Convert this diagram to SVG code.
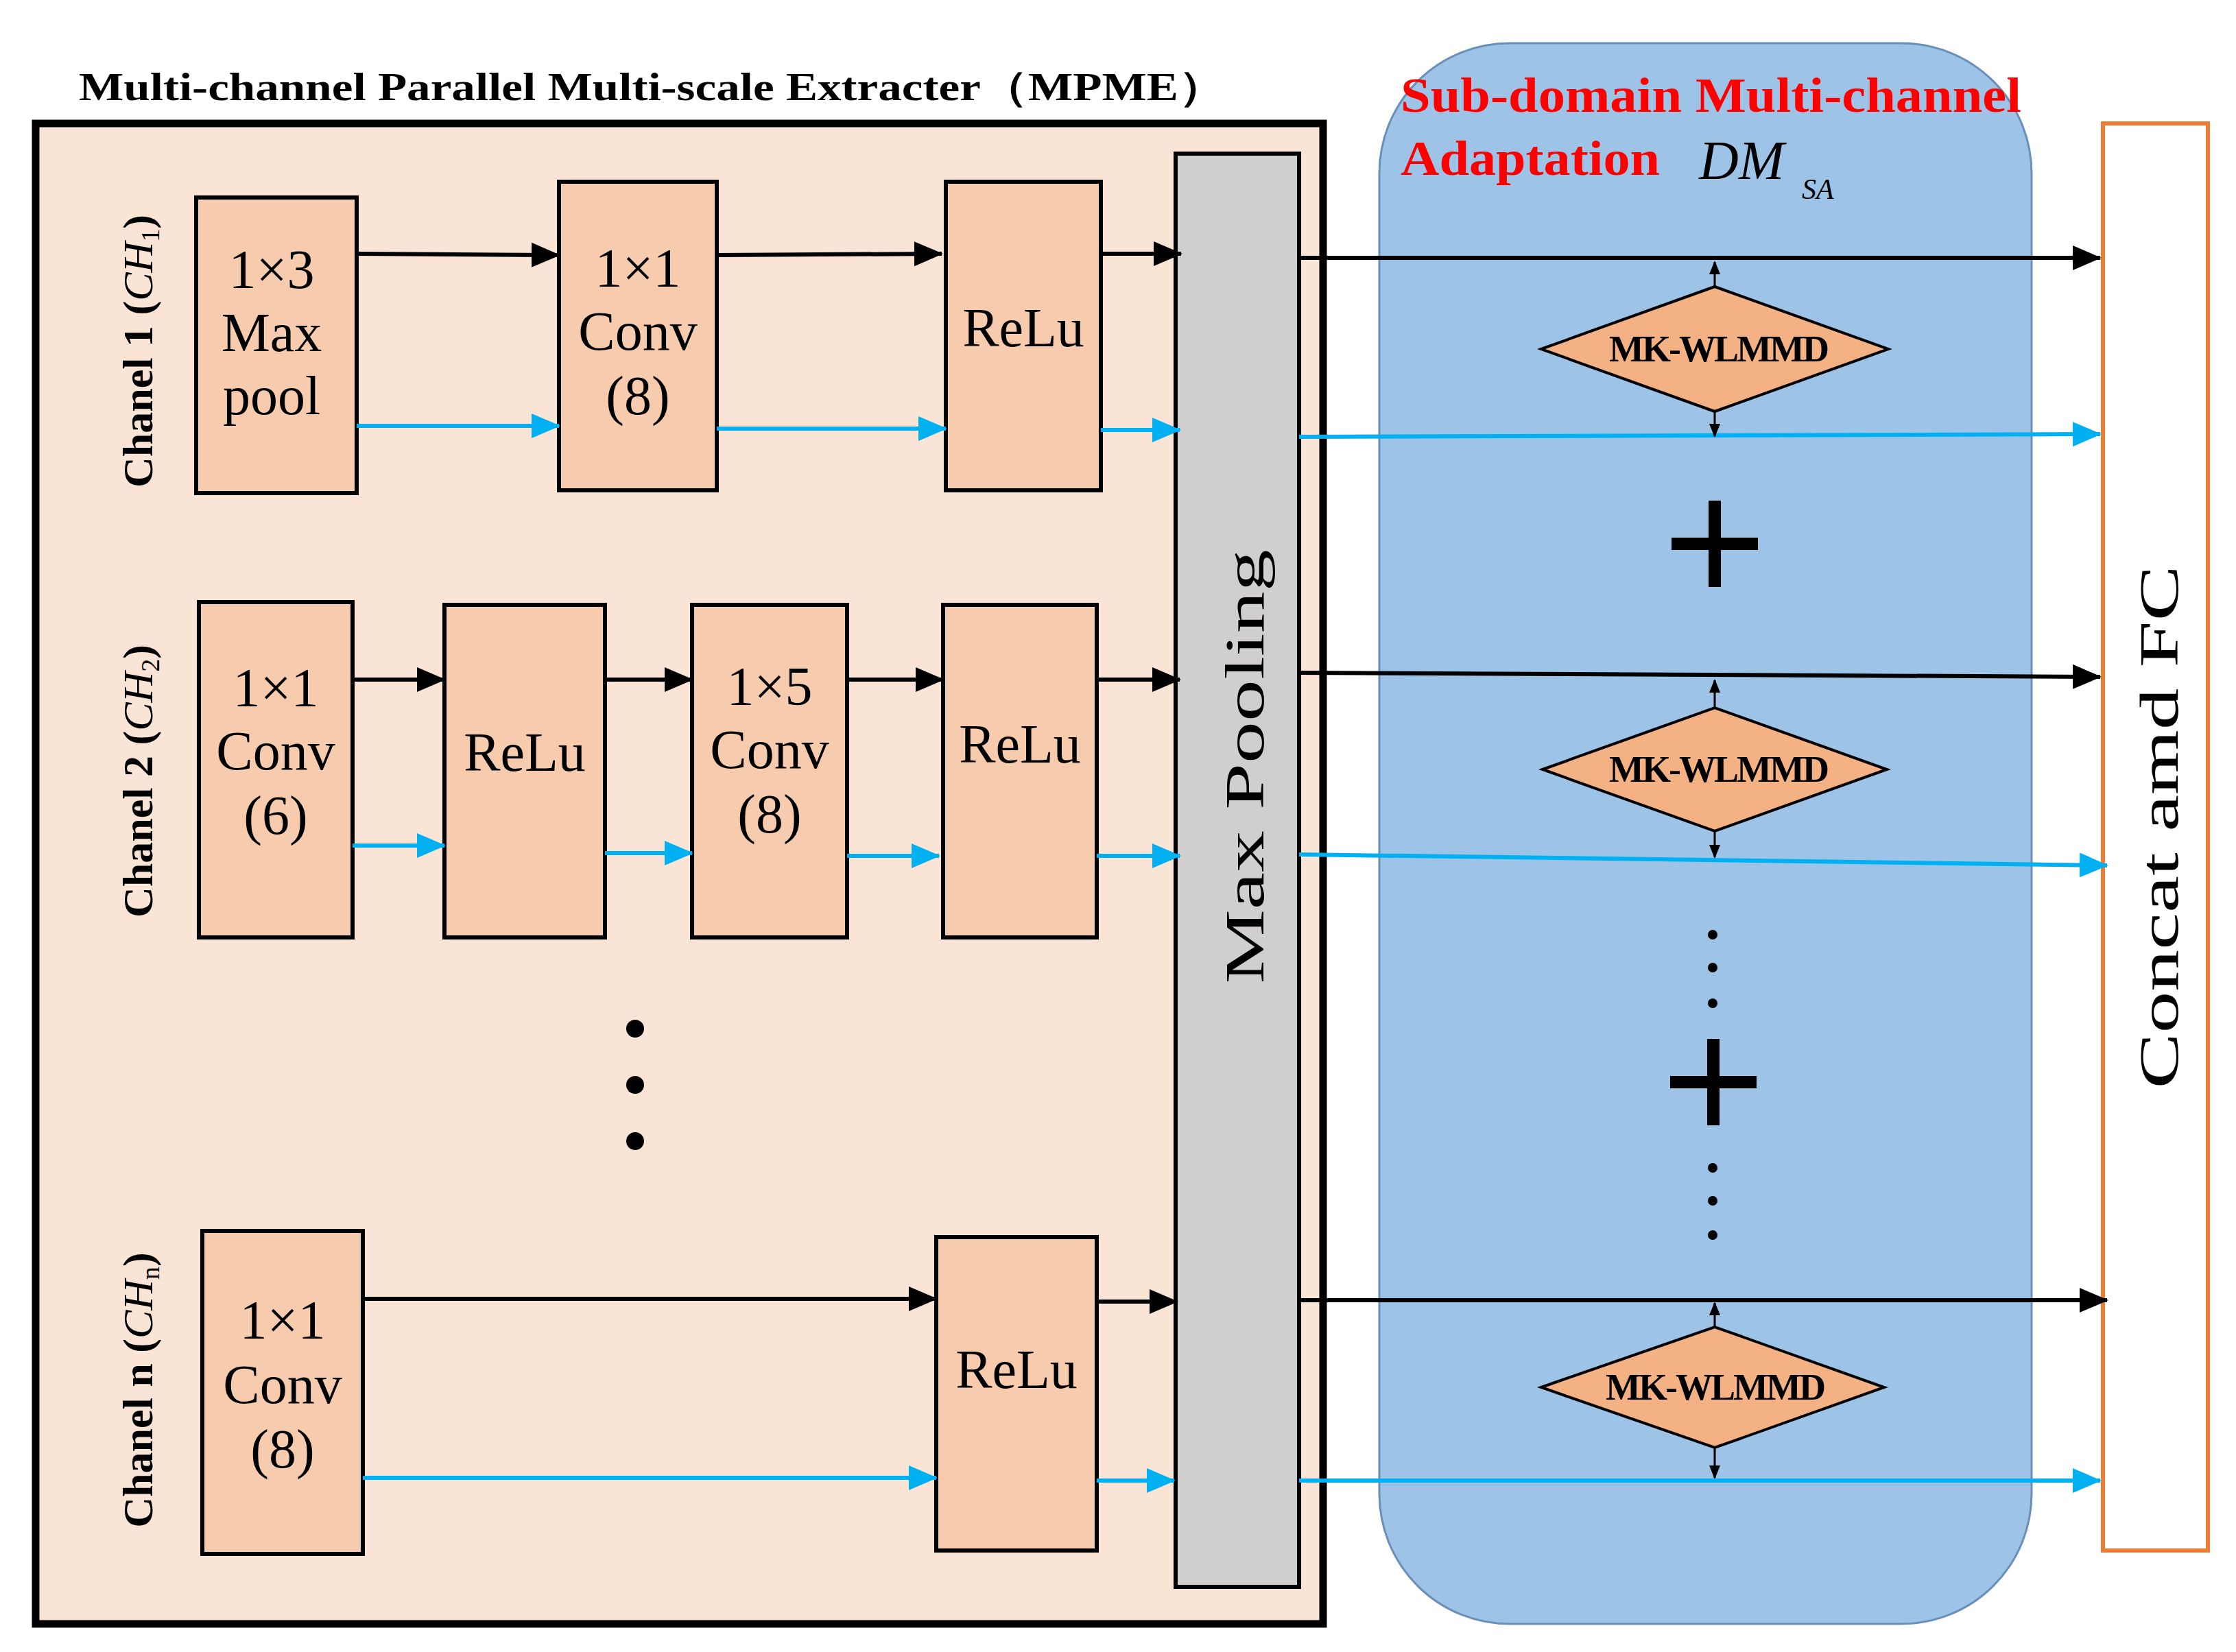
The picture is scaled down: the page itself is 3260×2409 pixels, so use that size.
<svg xmlns="http://www.w3.org/2000/svg" width="3260" height="2409" viewBox="0 0 3260 2409">
<style>
.box{fill:#f7cbad;stroke:#000;stroke-width:6}
.t{font-family:"Liberation Serif",serif;font-size:80px;text-anchor:middle;fill:#000}
.lab{font-family:"Liberation Serif",serif;font-weight:bold;font-size:62px;text-anchor:middle}
.bk{stroke:#000;stroke-width:6;fill:none}
.bl{stroke:#00b0f0;stroke-width:6;fill:none}
.dm{fill:#f4b183;stroke:#000;stroke-width:4}
.dt{font-family:"Liberation Serif",serif;font-weight:bold;font-size:54px;text-anchor:middle;letter-spacing:-3px}
.red{font-family:"Liberation Serif",serif;font-weight:bold;font-size:72px;fill:#ff0000}
</style>
<defs>
<marker id="ab" markerUnits="userSpaceOnUse" markerWidth="44" markerHeight="40" refX="40" refY="20" orient="auto"><path d="M0,2 L42,20 L0,38 Z" fill="#000"/></marker>
<marker id="al" markerUnits="userSpaceOnUse" markerWidth="44" markerHeight="40" refX="40" refY="20" orient="auto"><path d="M0,2 L42,20 L0,38 Z" fill="#00b0f0"/></marker>
<marker id="as" markerUnits="userSpaceOnUse" markerWidth="20" markerHeight="24" refX="18" refY="10" orient="auto"><path d="M0,2 L20,10 L0,18 Z" fill="#000"/></marker>
</defs>
<rect width="3260" height="2409" fill="#fff"/>
<text x="115" y="146" font-family="Liberation Serif,serif" font-weight="bold" font-size="58" textLength="1672" lengthAdjust="spacingAndGlyphs">Multi-channel Parallel Multi-scale Extracter（MPME）</text>
<g id="mpme"><rect x="52" y="180" width="1877" height="2188" fill="#fae4d6" stroke="#000" stroke-width="11"/></g>
<g id="da"><rect x="2011" y="63" width="951" height="2305" rx="190" fill="#9dc3e6" stroke="#6a8fb8" stroke-width="3"/>
<text class="red" x="2042" y="163" textLength="905" lengthAdjust="spacingAndGlyphs">Sub-domain Multi-channel</text>
<text class="red" x="2042" y="255" textLength="378" lengthAdjust="spacingAndGlyphs">Adaptation</text>
<text x="2477" y="261" font-family="Liberation Serif,serif" font-style="italic" font-size="80">DM</text>
<text x="2627" y="290" font-family="Liberation Serif,serif" font-style="italic" font-size="42">SA</text></g>
<g id="concat"><rect x="3066" y="180" width="153" height="2081" fill="#fff" stroke="#ed7d31" stroke-width="6"/>
<text class="t" font-size="112" transform="translate(3175,1206) rotate(-90)" textLength="763" lengthAdjust="spacingAndGlyphs">Concat amd FC</text></g>
<g id="maxpool"><rect x="1714" y="224" width="180" height="2090" fill="#d0cece" stroke="#000" stroke-width="6"/>
<text class="t" font-size="112" transform="translate(1842,1118) rotate(-90)" textLength="633" lengthAdjust="spacingAndGlyphs">Max Pooling</text></g>
<g id="labels">
<text class="lab" transform="translate(222,512) rotate(-90)">Chanel 1 (<tspan font-weight="normal" font-style="italic">CH</tspan><tspan font-weight="normal" font-size="38" dy="10">1</tspan><tspan dy="-10">)</tspan></text>
<text class="lab" transform="translate(222,1139) rotate(-90)">Chanel 2 (<tspan font-weight="normal" font-style="italic">CH</tspan><tspan font-weight="normal" font-size="38" dy="10">2</tspan><tspan dy="-10">)</tspan></text>
<text class="lab" transform="translate(222,2027) rotate(-90)">Chanel n (<tspan font-weight="normal" font-style="italic">CH</tspan><tspan font-weight="normal" font-size="38" dy="10">n</tspan><tspan dy="-10">)</tspan></text>
</g>
<g id="c1b1"><rect class="box" x="286" y="288" width="234" height="431"/><text class="t" x="396" y="420">1×3</text><text class="t" x="396" y="512">Max</text><text class="t" x="396" y="604">pool</text></g>
<g id="c1b2"><rect class="box" x="815" y="265" width="230" height="450"/><text class="t" x="930" y="418">1×1</text><text class="t" x="930" y="510">Conv</text><text class="t" x="930" y="604">(8)</text></g>
<g id="c1b3"><rect class="box" x="1379" y="265" width="226" height="450"/><text class="t" x="1492" y="505">ReLu</text></g>
<g id="c2b1"><rect class="box" x="290" y="878" width="224" height="489"/><text class="t" x="402" y="1030">1×1</text><text class="t" x="402" y="1122">Conv</text><text class="t" x="402" y="1216">(6)</text></g>
<g id="c2b2"><rect class="box" x="648" y="882" width="234" height="485"/><text class="t" x="765" y="1124">ReLu</text></g>
<g id="c2b3"><rect class="box" x="1009" y="882" width="226" height="485"/><text class="t" x="1122" y="1028">1×5</text><text class="t" x="1122" y="1120">Conv</text><text class="t" x="1122" y="1214">(8)</text></g>
<g id="c2b4"><rect class="box" x="1375" y="882" width="224" height="485"/><text class="t" x="1487" y="1112">ReLu</text></g>
<g id="cnb1"><rect class="box" x="295" y="1795" width="234" height="471"/><text class="t" x="412" y="1952">1×1</text><text class="t" x="412" y="2046">Conv</text><text class="t" x="412" y="2140">(8)</text></g>
<g id="cnb2"><rect class="box" x="1365" y="1804" width="234" height="457"/><text class="t" x="1482" y="2024">ReLu</text></g>
<g id="dots"><circle cx="926" cy="1500" r="13"/><circle cx="926" cy="1582" r="13"/><circle cx="926" cy="1664" r="13"/>
<circle cx="2497" cy="1363" r="7"/><circle cx="2497" cy="1411" r="7"/><circle cx="2497" cy="1463" r="7"/>
<circle cx="2497" cy="1703" r="7"/><circle cx="2497" cy="1751" r="7"/><circle cx="2497" cy="1801" r="7"/></g>
<g id="plus" fill="#000"><rect x="2437" y="784" width="126" height="18"/><rect x="2491" y="730" width="18" height="126"/>
<rect x="2435" y="1569" width="126" height="18"/><rect x="2489" y="1515" width="18" height="126"/></g>
<g id="connectors">
<line class="bk" x1="520" y1="370" x2="815" y2="372" marker-end="url(#ab)"/>
<line class="bk" x1="1045" y1="372" x2="1373" y2="370" marker-end="url(#ab)"/>
<line class="bk" x1="1605" y1="370" x2="1722" y2="370" marker-end="url(#ab)"/>
<line class="bl" x1="520" y1="621" x2="815" y2="621" marker-end="url(#al)"/>
<line class="bl" x1="1045" y1="625" x2="1379" y2="625" marker-end="url(#al)"/>
<line class="bl" x1="1605" y1="627" x2="1720" y2="627" marker-end="url(#al)"/>
<line class="bk" x1="514" y1="991" x2="648" y2="991" marker-end="url(#ab)"/>
<line class="bk" x1="882" y1="991" x2="1009" y2="991" marker-end="url(#ab)"/>
<line class="bk" x1="1235" y1="991" x2="1375" y2="991" marker-end="url(#ab)"/>
<line class="bk" x1="1599" y1="991" x2="1720" y2="991" marker-end="url(#ab)"/>
<line class="bl" x1="514" y1="1233" x2="648" y2="1233" marker-end="url(#al)"/>
<line class="bl" x1="882" y1="1244" x2="1009" y2="1244" marker-end="url(#al)"/>
<line class="bl" x1="1235" y1="1248" x2="1369" y2="1248" marker-end="url(#al)"/>
<line class="bl" x1="1599" y1="1248" x2="1720" y2="1248" marker-end="url(#al)"/>
<line class="bk" x1="529" y1="1894" x2="1365" y2="1894" marker-end="url(#ab)"/>
<line class="bk" x1="1599" y1="1898" x2="1716" y2="1898" marker-end="url(#ab)"/>
<line class="bl" x1="529" y1="2155" x2="1365" y2="2155" marker-end="url(#al)"/>
<line class="bl" x1="1599" y1="2159" x2="1712" y2="2159" marker-end="url(#al)"/>
<line class="bk" x1="1894" y1="376" x2="3062" y2="376" marker-end="url(#ab)"/>
<line class="bl" x1="1894" y1="637" x2="3062" y2="633" marker-end="url(#al)"/>
<line class="bk" x1="1894" y1="981" x2="3062" y2="987" marker-end="url(#ab)"/>
<line class="bl" x1="1894" y1="1246" x2="3072" y2="1262" marker-end="url(#al)"/>
<line class="bk" x1="1894" y1="1896" x2="3072" y2="1896" marker-end="url(#ab)"/>
<line class="bl" x1="1894" y1="2159" x2="3062" y2="2159" marker-end="url(#al)"/>
<g stroke="#000" stroke-width="3">
<line x1="2500" y1="418" x2="2500" y2="382" marker-end="url(#as)"/><line x1="2500" y1="600" x2="2500" y2="636" marker-end="url(#as)"/>
<line x1="2500" y1="1032" x2="2500" y2="992" marker-end="url(#as)"/><line x1="2500" y1="1212" x2="2500" y2="1250" marker-end="url(#as)"/>
<line x1="2500" y1="1935" x2="2500" y2="1900" marker-end="url(#as)"/><line x1="2500" y1="2111" x2="2500" y2="2155" marker-end="url(#as)"/>
</g>
</g>
<g id="d1"><polygon class="dm" points="2247,509 2500,418 2753,509 2500,600"/><text class="dt" x="2505" y="527">MK-WLMMD</text></g>
<g id="d2"><polygon class="dm" points="2249,1122 2500,1032 2751,1122 2500,1212"/><text class="dt" x="2505" y="1140">MK-WLMMD</text></g>
<g id="d3"><polygon class="dm" points="2247,2023 2500,1935 2747,2023 2500,2111"/><text class="dt" x="2500" y="2041">MK-WLMMD</text></g>
</svg>
